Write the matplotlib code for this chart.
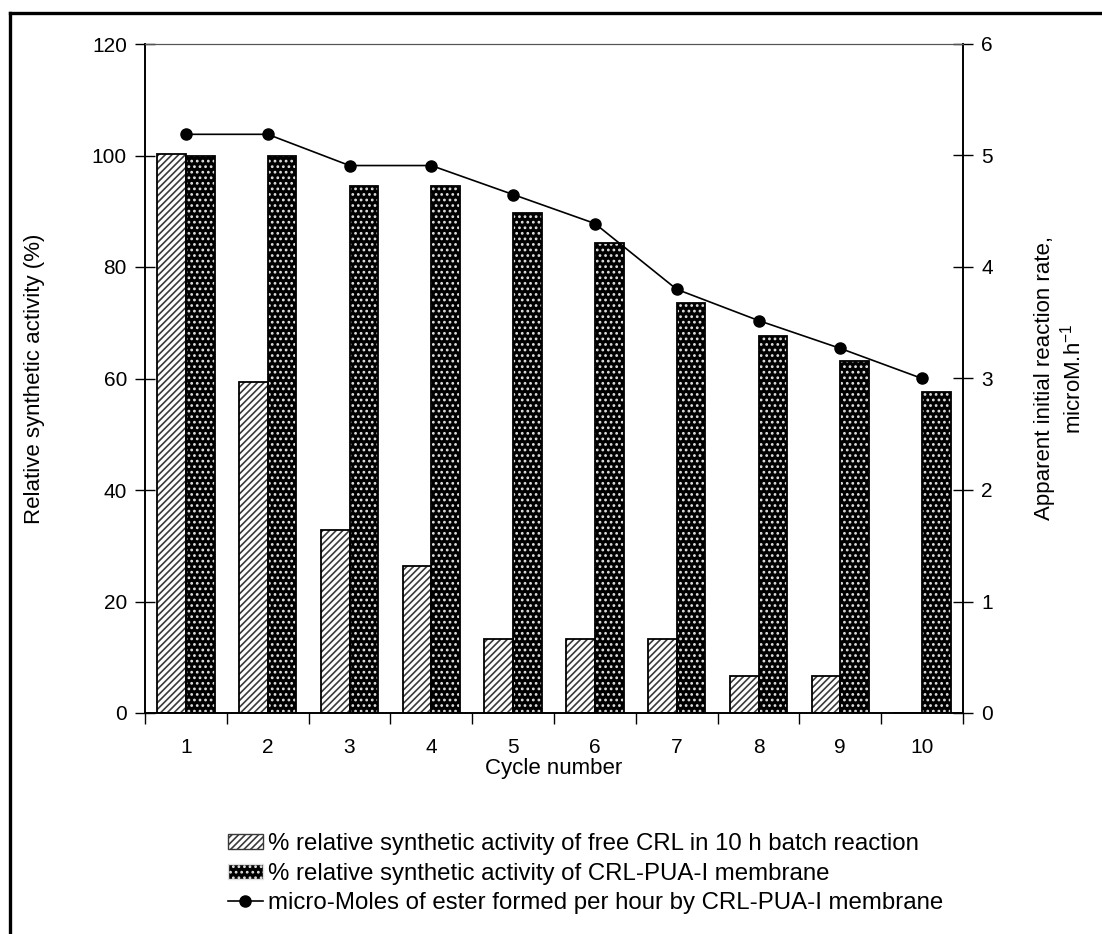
import matplotlib
matplotlib.use("Agg")
import matplotlib.pyplot as plt
from matplotlib.lines import Line2D
from matplotlib.patches import Patch
import numpy as np

plt.rcParams['font.family'] = ['Liberation Sans', 'DejaVu Sans']
plt.rcParams['hatch.linewidth'] = 1.2

cycles = [1, 2, 3, 4, 5, 6, 7, 8, 9, 10]
free_crl = [100.3, 59.4, 32.8, 26.4, 13.3, 13.3, 13.3, 6.6, 6.6, 0]
membrane = [100, 100, 94.5, 94.5, 89.7, 84.3, 73.5, 67.7, 63.2, 57.6]
rate = [5.19, 5.19, 4.91, 4.91, 4.65, 4.39, 3.80, 3.52, 3.27, 3.00]

W, H = 1102, 934
fig = plt.figure(figsize=(W / 100, H / 100), dpi=100)
ax = fig.add_axes([145 / W, 1 - 713 / H, (963 - 145) / W, (713 - 44) / H])
ax2 = ax.twinx()

# outer frame (left and top edges)
fig.add_artist(Line2D([10 / W, 10 / W], [0, 1 - 13 / H], transform=fig.transFigure,
                      color='black', linewidth=2.4))
fig.add_artist(Line2D([10 / W, 1], [1 - 13 / H, 1 - 13 / H], transform=fig.transFigure,
                      color='black', linewidth=2.4))

x = np.arange(len(cycles))
w = 0.35

stripe = dict(facecolor='white', edgecolor='#3a3a3a', hatch='/////')
dots = dict(facecolor='black', edgecolor='#e0e0e0', hatch='...')

# free CRL: striped bars
ax.bar(x - w / 2, free_crl, w, linewidth=0, zorder=2, **stripe)
ax.bar(x - w / 2, free_crl, w, facecolor='none', edgecolor='black',
       linewidth=1.3, zorder=3)
# membrane: dark dotted bars
ax.bar(x + w / 2, membrane, w, linewidth=0, zorder=2, **dots)
ax.bar(x + w / 2, membrane, w, facecolor='none', edgecolor='black',
       linewidth=1.3, zorder=3)

ax2.plot(x, rate, color='black', linewidth=1.2, marker='o', markersize=8, zorder=5)

ax.set_xlim(-0.5, len(cycles) - 0.5)
ax.set_ylim(0, 120)
ax2.set_ylim(0, 6)
ax.set_yticks(np.arange(0, 121, 20))
ax2.set_yticks(np.arange(0, 7, 1))

ax.set_xticks(x)
ax.set_xticklabels([str(c) for c in cycles], fontsize=15)
ax.tick_params(axis='x', length=0, pad=18)
# boundary ticks between categories
ax.set_xticks(np.arange(-0.5, len(cycles) + 0.5, 1), minor=True)
ax.tick_params(axis='x', which='minor', length=8, direction='out', width=1)

ax.tick_params(axis='y', direction='inout', length=14, width=1, labelsize=15, pad=6)
ax2.tick_params(axis='y', direction='inout', length=14, width=1, labelsize=15, pad=6)

for a in (ax, ax2):
    for s in ('left', 'right', 'bottom'):
        a.spines[s].set_linewidth(1.2)
    a.spines['top'].set_linewidth(0.8)
    a.spines['top'].set_color('#555555')

ax.set_xlabel('Cycle number', fontsize=16, labelpad=1)
ax.set_ylabel('Relative synthetic activity (%)', fontsize=16, labelpad=34)
ax2.set_ylabel('Apparent initial reaction rate,\nmicroM.h$^{\\mathregular{-1}}$',
               fontsize=16, labelpad=30)

handles = [
    Patch(linewidth=1, **stripe),
    Patch(linewidth=1, **dots),
    Line2D([0], [0], color='black', marker='o', markersize=8, linewidth=1.2),
]
labels = [
    '% relative synthetic activity of free CRL in 10 h batch reaction',
    '% relative synthetic activity of CRL-PUA-I membrane',
    'micro-Moles of ester formed per hour by CRL-PUA-I membrane',
]
fig.legend(handles, labels, loc='upper left', bbox_to_anchor=(228 / W, 1 - 833 / H),
           frameon=False, fontsize=17.3, handlelength=1.45, handleheight=0.6,
           handletextpad=0.2, labelspacing=0.32, borderaxespad=0, borderpad=0)

fig.savefig('out.png', dpi=100)
